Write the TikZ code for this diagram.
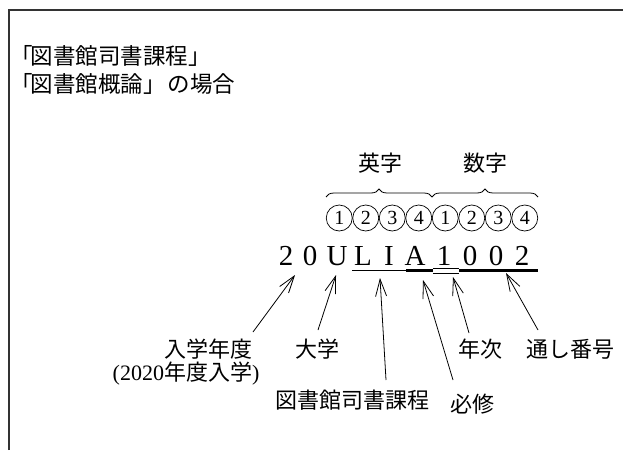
\documentclass[tikz,border=0pt]{standalone}
\usepackage{fontspec}
\setmainfont{Liberation Serif}
\newfontfamily\cjk{Noto Sans CJK JP}
\usetikzlibrary{arrows.meta,decorations.pathreplacing}
\begin{document}
\begin{tikzpicture}[x=1pt,y=-1pt,
  jp/.style={font=\cjk\fontsize{22}{26}\selectfont, inner sep=0pt},
  hdr/.style={font=\cjk\fontsize{22.5}{26}\selectfont, inner sep=0pt, anchor=west},
  codech/.style={font=\fontsize{29}{32}\selectfont, inner sep=0pt, anchor=base},
  circnum/.style={circle, draw, line width=0.7pt, minimum size=26pt, inner sep=0pt, font=\fontsize{20}{21}\selectfont},
  arr/.style={-{Straight Barb[length=17pt,width=11pt,line width=0.8pt]}, line width=0.8pt},
  thinline/.style={line width=0.9pt},
  thickline/.style={line width=2.6pt},
  bracestyle/.style={decorate, decoration={brace, amplitude=8pt}, line width=0.8pt},
  frame/.style={line width=1.4pt, black!80}
]
\useasboundingbox (0,0) rectangle (623,450);
\fill[white] (0,0) rectangle (623,450);
% frame
\draw[frame] (9,450) -- (9,10) -- (623,10);

% header
\node[hdr] (h1) at (10,56) {「\kern-2pt 図書館司書課程」};
\node[hdr] (h2) at (10,84) {「\kern-2pt 図書館概論」\kern2pt の場合};

% category labels
\node[jp] (eiji) at (380,163) {英字};
\node[jp] (suji) at (485,163) {数字};
\draw[bracestyle] (326,197) -- (432,197);
\draw[bracestyle] (432,197) -- (538,197);

% circled numbers
\foreach \i/\n in {1/1,2/2,3/3,4/4,5/1,6/2,7/3,8/4} {
  \node[circnum] (n\i) at ({326+26.5*(\i-0.5)},218) {\n};
}

% code characters
\node[codech] (c1) at (286,265) {2};
\node[codech] (c2) at (310,265) {0};
\node[codech] (c3) at (337,265) {U};
\node[codech] (c4) at (363,265) {L};
\node[codech] (c5) at (389,265) {I};
\node[codech] (c6) at (415,265) {A};
\node[codech] (c7) at (444,265) {1};
\node[codech] (c8) at (470,265) {0};
\node[codech] (c9) at (496,265) {0};
\node[codech] (c10) at (522,265) {2};

% underlines
\draw[thinline] (352,270.5) -- (406,270.5);
\draw[thickline] (406,270.5) -- (433,270.5);
\draw[thinline] (433,268.3) -- (459,268.3);
\draw[thinline] (433,273.3) -- (459,273.3);
\draw[thickline] (459,270.5) -- (538,270.5);

% labels
\node[jp] (l1) at (208,349) {入学年度};
\node[jp] (l1b) at (186,374) {\rmfamily (2020{\cjk 年度入学})};
\node[jp] (l2) at (317,349) {大学};
\node[jp] (l3) at (352,400) {図書館司書課程};
\node[jp] (l4) at (472,404) {必修};
\node[jp] (l5) at (480,349) {年次};
\node[jp] (l6) at (570,349) {通し番号};

% arrow ends
\coordinate (s1) at (253,332); \coordinate (t1) at (295,275);
\coordinate (s2) at (318,330); \coordinate (t2) at (336,275);
\coordinate (s3) at (386,380); \coordinate (t3) at (380,278);
\coordinate (s4) at (453,380); \coordinate (t4) at (423,280);
\coordinate (s5) at (469,333); \coordinate (t5) at (453,277);
\coordinate (s6) at (538,330); \coordinate (t6) at (506,273);
\foreach \k in {1,...,6} { \draw[arr] (s\k) -- (t\k); }
\end{tikzpicture}
\end{document}
